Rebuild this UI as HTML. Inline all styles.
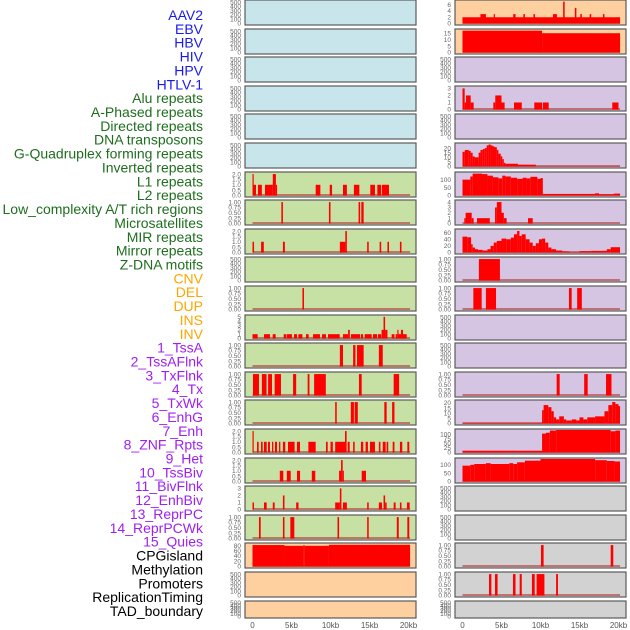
<!DOCTYPE html>
<html><head><meta charset="utf-8">
<style>
body{margin:0;background:#fff;width:630px;height:630px;overflow:hidden;font-family:"Liberation Sans",sans-serif}
svg{position:absolute;left:0;top:0}
</style></head>
<body>
<svg id="chart" width="630" height="630" xmlns="http://www.w3.org/2000/svg"></svg>
<script>
// ---- labels ----
const trackLabels = ["AAV2","EBV","HBV","HIV","HPV","HTLV-1","Alu repeats","A-Phased repeats","Directed repeats","DNA transposons","G-Quadruplex forming repeats","Inverted repeats","L1 repeats","L2 repeats","Low_complexity A/T rich regions","Microsatellites","MIR repeats","Mirror repeats","Z-DNA motifs","CNV","DEL","DUP","INS","INV","1_TssA","2_TssAFlnk","3_TxFlnk","4_Tx","5_TxWk","6_EnhG","7_Enh","8_ZNF_Rpts","9_Het","10_TssBiv","11_BivFlnk","12_EnhBiv","13_ReprPC","14_ReprPCWk","15_Quies","CPGisland","Methylation","Promoters","ReplicationTiming","TAD_boundary"];
const labelGroups = [6,13,5,15,5];
const groupColors = ["#1a1aee","#1e6e1e","#ffa500","#a020f0","#000000"];
const xTicks = [0,5,10,15,20];
const xTickLabels = ["0","5kb","10kb","15kb","20kb"];

// ---- tick sets ----
const tEmpty = [0,100,200,300,400,500];
const t01 = [0,0.25,0.5,0.75,1];
const t02 = [0,0.5,1,1.5,2];

// ---- left column data [startKb,endKb,value] ----
const L7 = [[0,0.12,2],[0.12,0.45,1],[0.7,1.2,1],[1.6,2.6,1],[2.6,3.0,2],[3.0,3.1,1],[8.1,8.7,1],[9.9,10.2,1],[11.6,12.1,1],[13.0,13.7,1],[15.1,15.7,1],[16.0,16.5,1],[16.6,17.5,1]];
const L8 = [[3.7,3.9,1],[9.8,10.0,1],[13.6,13.8,1],[13.95,14.25,1]];
const L9 = [[0,0.2,1],[1.1,1.45,1],[3.9,4.15,1],[11.2,11.9,1],[11.9,12.1,2],[14.7,14.9,1],[16.3,16.5,1],[17.3,17.5,1],[18.9,19.1,1]];
const L11 = [[6.4,6.6,1]];
const L12 = [[0,0.66,1],[1.47,2.24,1],[2.59,2.97,1],[4.0,4.34,1],[4.42,5.06,1],[5.32,5.71,1],[5.88,6.39,1],[6.86,7.2,1],[7.76,8.65,1],[8.91,9.42,1],[9.68,11.18,1],[11.6,12.26,1],[12.26,12.48,2],[12.63,13.8,1],[13.91,14.17,1],[14.38,15.28,1],[15.45,15.97,1],[16.09,16.5,1],[16.55,16.8,2],[16.8,17.0,5],[17.0,17.3,2],[17.84,18.2,1],[18.35,18.57,1],[18.57,18.7,2],[18.7,19.04,1],[19.04,19.3,2],[19.3,19.77,1]];
const L13 = [[11.2,11.6,1],[12.9,13.2,1],[13.4,14.25,1],[16.2,16.7,1]];
const L14 = [[0.06,0.83,1],[1.2,1.8,1],[2.0,2.5,1],[2.84,3.65,1],[5.2,5.6,1],[7.07,7.3,1],[7.9,9.4,1],[13.65,14.0,1],[18.1,18.8,1]];
const L15 = [[10.6,10.8,1],[12.6,13.0,1],[13.1,13.5,1],[16.9,17.2,1],[17.9,18.2,1]];
const L16 = [[0,0.15,2],[0.58,0.79,1],[1.09,1.3,1],[1.47,1.82,1],[1.99,2.24,1],[2.5,2.67,1],[2.88,3.14,1],[3.4,3.57,1],[3.9,4.2,1],[4.55,5.4,1],[5.7,6.09,1],[7.16,8.1,1],[9.42,9.64,1],[10.0,10.3,1],[10.6,11.86,1],[11.86,12.07,2],[12.2,12.46,1],[12.9,13.1,1],[13.9,14.2,1],[14.5,14.8,1],[15.06,15.7,1],[16.2,16.4,1],[16.7,17.07,1],[17.2,17.4,1],[17.97,18.2,1],[18.9,19.2,1],[19.85,20.1,1]];
const L17 = [[3.5,3.95,1],[4.4,4.9,1],[5.7,6.1,1],[7.6,8.05,1],[11.1,11.35,1],[11.35,11.56,2],[11.56,11.7,1],[14.0,14.55,1]];
const L18 = [[0,0.19,1],[1.47,1.82,1],[2.6,2.84,1],[3.9,4.1,2],[5.6,5.9,1],[10.6,11.2,1],[11.2,11.4,3],[11.6,12.1,1],[14.7,14.9,1],[16.2,16.6,1],[16.8,17.0,2],[17.0,17.2,1],[18.1,18.35,1],[18.9,19.1,1],[19.8,20.15,1]];
const L19 = [[0.83,1.05,1],[3.9,4.1,1],[4.85,5.36,1],[10.9,11.1,1],[14.7,14.9,1],[18.5,18.75,1],[19.85,20.1,1]];
const L20 = [[0,4.1,82],[4.1,6.5,79],[6.5,6.7,81],[6.7,9.8,79],[9.8,20.2,83]];

// ---- right column data ----
const R1 = [[0,20.2,2],[2.3,3.0,3],[4.0,4.1,3],[6.5,6.8,3],[7.8,8.0,3],[9.1,9.3,3],[11.6,12.1,3],[12.9,13.1,7],[14.4,14.6,5],[15.1,15.3,3],[16.3,16.5,3],[18.0,18.2,3]];
const R2 = [[0,10.2,17],[10.2,20.2,15]];
const R4 = [[0,0.28,3],[0.28,0.45,1],[0.45,1.05,2],[1.05,1.43,1],[3.95,4.2,1],[4.2,5.0,2],[5.0,5.4,1],[6.6,7.6,1],[9.2,10.2,1],[10.3,11.05,1],[19.2,20.0,1]];
const R6 = [[0,0.3,16],[0.3,0.8,18],[0.8,1.05,17],[1.05,1.3,15],[1.3,1.55,11],[1.55,2.07,10],[2.07,2.3,15],[2.3,2.6,18],[2.6,2.85,19],[2.85,3.1,20],[3.1,3.35,23],[3.35,3.6,24],[3.6,3.85,23],[3.85,4.1,22],[4.1,4.4,21],[4.4,4.6,18],[4.6,4.9,14],[4.9,5.1,11],[5.1,5.3,8],[5.3,5.5,4],[5.5,7.1,3],[7.1,9.4,2],[9.4,20.2,0.3]];
const R7 = [[0,1,100],[1,1.3,120],[1.3,2.5,138],[2.5,3.2,135],[3.2,3.9,125],[3.9,4.6,115],[4.6,5.1,108],[5.1,5.5,125],[5.5,6.2,120],[6.2,7,112],[7,7.7,105],[7.7,8.2,112],[8.2,8.7,108],[8.7,9.6,118],[9.6,10,105],[10,10.3,110],[10.3,17,10],[17,17.5,14],[17.5,19.4,8],[19.4,20.2,12]];
const R8 = [[0.23,0.4,1],[0.4,1.18,2],[1.18,1.43,1],[1.86,3.5,1],[4.17,4.4,3],[4.4,5.0,4],[5.0,5.3,2],[5.3,5.66,1],[8.4,9.0,1]];
const R9 = [[0,0.6,48],[0.6,1.1,46],[1.1,1.3,25],[1.3,1.6,15],[1.6,2.0,10],[2.0,2.6,8],[2.6,3.2,6],[3.2,3.6,10],[3.6,4.0,20],[4.0,4.4,30],[4.4,5.0,35],[5.0,5.6,42],[5.6,6.2,40],[6.2,6.6,45],[6.6,7.0,55],[7.0,7.3,65],[7.3,7.6,50],[7.6,8.1,55],[8.1,8.6,40],[8.6,9.0,30],[9.0,9.4,20],[9.4,9.8,28],[9.8,10.2,40],[10.2,10.6,42],[10.6,11.0,30],[11.0,11.4,15],[11.4,12.0,10],[12.0,12.8,6],[12.8,13.7,3],[13.7,15.0,1],[15.0,16.5,4],[16.5,18.5,5],[18.5,19.0,10],[19.0,20.2,16]];
const R10 = [[2.1,4.8,1]];
const R11 = [[1.39,2.46,1],[3.0,4.3,1],[13.65,14.0,1],[14.7,15.3,1]];
const R14 = [[12.07,12.46,1],[15.6,16.05,1],[18.4,19.1,1]];
const R15 = [[0,10.2,0.5],[10.2,10.4,13],[10.4,11.0,18],[11.0,11.4,16],[11.4,11.7,12],[11.7,12.0,6],[12.0,12.4,4],[12.4,13.0,7],[13.0,13.3,4],[13.3,14.0,3],[14.0,14.6,4],[14.6,15.0,3],[15.0,15.5,6],[15.5,16.0,4],[16.0,17.0,6],[17.0,18.2,7],[18.2,18.7,12],[18.7,19.2,18],[19.2,19.6,21],[19.6,20.0,19],[20.0,20.2,17]];
const R16 = [[0,10.2,10],[10.2,10.7,105],[10.7,11.2,110],[11.2,12,122],[12,19,125],[19,19.6,118],[19.6,20.2,122]];
const R17 = [[0,1,95],[1,1.5,100],[1.5,3,105],[3,3.6,110],[3.6,6,105],[6,6.5,110],[6.5,7,105],[7,8,115],[8,10,125],[10,17,135],[17,18.5,128],[18.5,19.5,123],[19.5,20.2,120]];
const R20 = [[10.06,10.4,1],[19.0,19.33,1]];
const R21 = [[3.4,3.7,1],[4.17,4.5,1],[6.47,6.8,1],[7.33,7.6,1],[8.9,9.26,1],[9.5,10.5,1],[12.0,12.24,1]];

const BLUE="#c9e5ec", GREEN="#c7e1a5", ORANGE="#fecf9f", PURPLE="#d6c5e2", GRAY="#d2d2d2";
// [bg, data, ticks, decimals, ymax]
const leftPanels = [
 [BLUE,null,tEmpty,0,530],[BLUE,null,tEmpty,0,530],[BLUE,null,tEmpty,0,530],[BLUE,null,tEmpty,0,530],[BLUE,null,tEmpty,0,530],[BLUE,null,tEmpty,0,530],
 [GREEN,L7,t02,1,2.1],[GREEN,L8,t01,2,1.05],[GREEN,L9,t02,1,2.1],[GREEN,null,tEmpty,0,530],[GREEN,L11,t01,2,1.05],
 [GREEN,L12,[0,1,2,3,4,5],0,5.2],[GREEN,L13,t01,2,1.05],[GREEN,L14,t01,2,1.05],[GREEN,L15,t01,2,1.05],[GREEN,L16,t02,1,2.1],
 [GREEN,L17,t02,1,2.1],[GREEN,L18,[0,1,2,3],0,3.2],[GREEN,L19,t01,2,1.05],[ORANGE,L20,[0,20,40,60,80],0,86],
 [ORANGE,null,tEmpty,0,530],[ORANGE,null,tEmpty,0,530]];
const rightPanels = [
 [ORANGE,R1,[0,2,4,6],0,7.2],[ORANGE,R2,[0,5,10,15],0,17.5],[PURPLE,null,tEmpty,0,530],[PURPLE,R4,[0,1,2,3],0,3.2],
 [PURPLE,null,tEmpty,0,530],[PURPLE,R6,[0,5,10,15,20],0,24.5],[PURPLE,R7,[0,50,100],0,142],[PURPLE,R8,[0,1,2,3,4],0,4.2],
 [PURPLE,R9,[0,20,40,60],0,68],[PURPLE,R10,t01,2,1.05],[PURPLE,R11,t01,2,1.05],[PURPLE,null,tEmpty,0,530],
 [PURPLE,null,tEmpty,0,530],[PURPLE,R14,t01,2,1.05],[PURPLE,R15,[0,5,10,15,20],0,22],[PURPLE,R16,[0,25,50,75,100],0,125],
 [PURPLE,R17,[0,50,100],0,135],[GRAY,null,tEmpty,0,530],[GRAY,null,tEmpty,0,530],[GRAY,R20,t01,2,1.05],
 [GRAY,R21,t01,2,1.05],[GRAY,null,tEmpty,0,530]];

const svg = document.getElementById('chart');
const NS = "http://www.w3.org/2000/svg";
function mk(tag, attrs, parent){const e=document.createElementNS(NS,tag);for(const k in attrs)e.setAttribute(k,attrs[k]);(parent||svg).appendChild(e);return e;}

// labels
let li=0;
labelGroups.forEach((n,g)=>{for(let i=0;i<n;i++){
  const t=mk('text',{x:203,y:20+li*13.86,'text-anchor':'end','font-size':'14',fill:groupColors[g]});
  t.textContent=trackLabels[li];
  
  
  li++;}});

const rowTops=[];for(let i=0;i<22;i++)rowTops.push(Math.round(i*28.6));
function drawPanel(p,col,row){
  const x0 = col===0?245:455, w=171;
  const top=rowTops[row], h=row===21?17:25;
  const zeroKb = col===0?252.5:462.5, pxPerKb=7.8;
  const xs = kb=>zeroKb+kb*pxPerKb;
  const base=top+h-1.5, ys=v=>base-(v/p[4])*(h-2.5);
  const g=mk('g',{});
  
  
  mk('rect',{x:x0,y:top,width:w,height:h,fill:p[0],stroke:'#5a5a5a','stroke-width':1.2},g);
  if(p[1]){
    mk('rect',{x:xs(0),y:base-1.5,width:xs(20.2)-xs(0),height:2,fill:'#b84a4a',opacity:0.7},g);
    p[1].forEach(s=>{
      const r=mk('rect',{x:xs(s[0]),y:ys(s[2]),width:Math.max(1.2,xs(s[1])-xs(s[0])),height:base-ys(s[2]),fill:'#ff0000'},g);
      
      
    });
  }
  p[2].forEach(v=>{
    const t=mk('text',{x:x0-4,y:ys(v)+2.2,'text-anchor':'end','font-size':'6.5',fill:'#666'},g);
    t.textContent=v.toFixed(p[3]);
  });
}
leftPanels.forEach((p,i)=>drawPanel(p,0,i));
rightPanels.forEach((p,i)=>drawPanel(p,1,i));

// x axes
[252.5,462.5].forEach(z=>{xTicks.forEach((v,i)=>{
  const t=mk('text',{x:z+v*7.8,y:628,'text-anchor':'middle','font-size':'8',fill:'#555'});
  t.textContent=xTickLabels[i];
  
  
});});
</script>
</body></html>
